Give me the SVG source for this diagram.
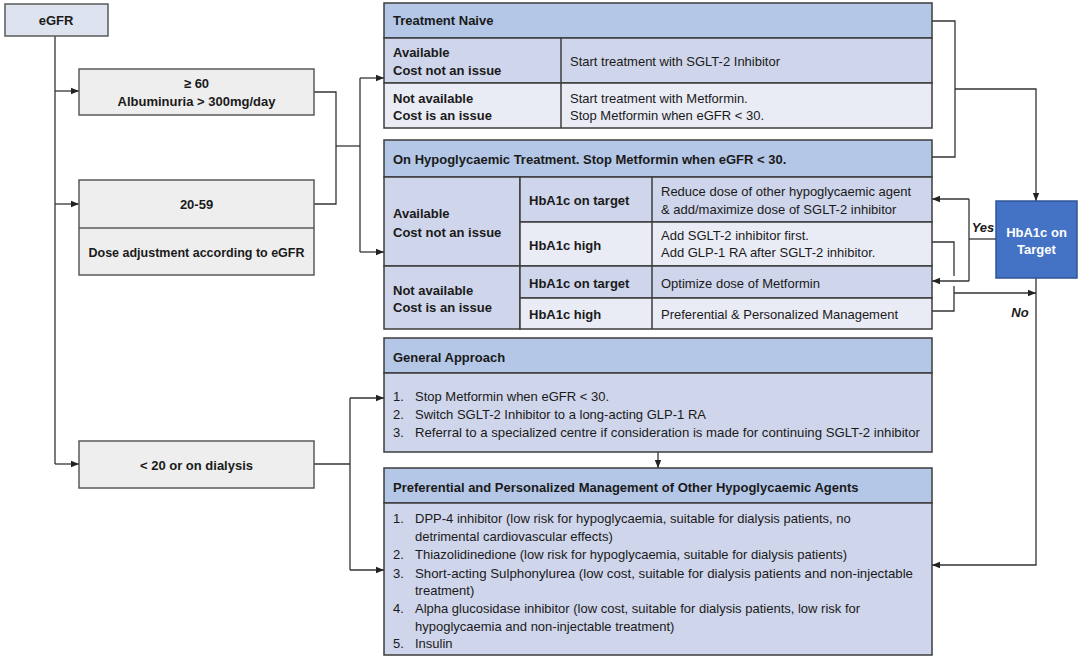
<svg xmlns="http://www.w3.org/2000/svg" width="1080" height="660" viewBox="0 0 1080 660">
<defs>
<marker id="ah" viewBox="0 0 8 8" refX="8" refY="4" markerWidth="8" markerHeight="8" markerUnits="userSpaceOnUse" orient="auto">
<path d="M0,0.8 L8,4 L0,7.2 Z" fill="#222"/>
</marker>
<style>
text{font-family:"Liberation Sans",Arial,sans-serif;font-size:13px;fill:#1a1a1a}
.b{font-weight:bold}
.c{text-anchor:middle}
.w{fill:#ffffff}
.bi{font-weight:bold;font-style:italic}
.box{fill:#eeeeee;stroke:#5a5a5a;stroke-width:1.5}
.egfr{fill:#dde4ef;stroke:#5a5a5a;stroke-width:1.5}
.hd{fill:#b4c7e7;stroke:#3d3d3d;stroke-width:1.5}
.dk{fill:#cfd5ea;stroke:#3d3d3d;stroke-width:1.5}
.lt{fill:#e9ebf5;stroke:#3d3d3d;stroke-width:1.5}
.tgt{fill:#4472c4;stroke:#2f5597;stroke-width:1.5}
.ln{fill:none;stroke:#333;stroke-width:1.3}
.ar{fill:none;stroke:#333;stroke-width:1.3;marker-end:url(#ah)}
</style>
</defs>
<rect width="1080" height="660" fill="#ffffff"/>

<g id="connectors">
<path class="ln" d="M55,36 V464"/>
<path class="ar" d="M55,91 H79"/>
<path class="ar" d="M55,204 H79"/>
<path class="ar" d="M55,464 H79"/>
<path class="ln" d="M314,92 H336 V204 H314"/>
<path class="ln" d="M336,146 H360"/>
<path class="ln" d="M360,78 V252"/>
<path class="ar" d="M360,78 H384"/>
<path class="ar" d="M360,252 H384"/>
<path class="ln" d="M314,464 H350"/>
<path class="ln" d="M350,398 V570"/>
<path class="ar" d="M350,398 H384"/>
<path class="ar" d="M350,570 H384"/>
<path class="ln" d="M932,21 H955 V157 H932"/>
<path class="ar" d="M955,89 H1036 V201"/>
<path class="ln" d="M996,239 H969"/>
<path class="ln" d="M969,199 V281"/>
<path class="ar" d="M969,199 H932"/>
<path class="ar" d="M969,281 H932"/>
<path class="ln" d="M932,242 H954 V276"/>
<path class="ln" d="M954,286 V311 H932"/>
<path class="ar" d="M954,293 H1036"/>
<path class="ar" d="M1036,278 V565 H932"/>
<path class="ar" d="M658,452 V468"/>
</g>

<g id="egfr">
<rect class="egfr" x="5" y="4" width="103" height="32"/>
<text class="b c" x="56" y="24.5">eGFR</text>
</g>

<g id="egfr-60">
<rect class="box" x="79" y="69" width="235" height="46"/>
<text class="b c" x="196.5" y="87.5">≥ 60</text>
<text class="b c" x="196.5" y="105.5">Albuminuria &gt; 300mg/day</text>
</g>

<g id="egfr-20-59">
<rect class="box" x="79" y="180" width="235" height="95"/>
<line x1="79" y1="228" x2="314" y2="228" stroke="#5a5a5a" stroke-width="1.5"/>
<text class="b c" x="196.5" y="208.5">20-59</text>
<text class="b c" x="196.5" y="256.5" textLength="216" lengthAdjust="spacingAndGlyphs">Dose adjustment according to eGFR</text>
</g>

<g id="egfr-20">
<rect class="box" x="79" y="441" width="235" height="47"/>
<text class="b c" x="196.5" y="469.5">&lt; 20 or on dialysis</text>
</g>

<g id="treatment-naive">
<rect class="hd" x="384" y="3" width="548" height="35"/>
<rect class="dk" x="384" y="38" width="548" height="45"/>
<rect class="lt" x="384" y="83" width="548" height="45"/>
<line x1="561" y1="38" x2="561" y2="128" stroke="#3d3d3d" stroke-width="1.5"/>
<text class="b" x="393" y="25">Treatment Naive</text>
<text class="b" x="393" y="56.5">Available</text>
<text class="b" x="393" y="74.5">Cost not an issue</text>
<text x="570" y="66">Start treatment with SGLT-2 Inhibitor</text>
<text class="b" x="393" y="102.5">Not available</text>
<text class="b" x="393" y="119.5">Cost is an issue</text>
<text x="570" y="102.5">Start treatment with Metformin.</text>
<text x="570" y="119.5">Stop Metformin when eGFR &lt; 30.</text>
</g>

<g id="hypoglycaemic-treatment">
<rect class="hd" x="384" y="140" width="548" height="37"/>
<rect class="dk" x="384" y="177" width="136" height="89"/>
<rect class="dk" x="520" y="177" width="412" height="45"/>
<rect class="lt" x="520" y="222" width="412" height="44"/>
<rect class="dk" x="384" y="266" width="136" height="63"/>
<rect class="dk" x="520" y="266" width="412" height="32"/>
<rect class="lt" x="520" y="298" width="412" height="31"/>
<line x1="652" y1="177" x2="652" y2="329" stroke="#3d3d3d" stroke-width="1.5"/>
<text class="b" x="393" y="163.5">On Hypoglycaemic Treatment. Stop Metformin when eGFR &lt; 30.</text>
<text class="b" x="393" y="217.5">Available</text>
<text class="b" x="393" y="236.5">Cost not an issue</text>
<text class="b" x="529" y="204.5">HbA1c on target</text>
<text x="661" y="195.5">Reduce dose of other hypoglycaemic agent</text>
<text x="661" y="213.5">&amp; add/maximize dose of SGLT-2 inhibitor</text>
<text class="b" x="529" y="249.5">HbA1c high</text>
<text x="661" y="239.5">Add SGLT-2 inhibitor first.</text>
<text x="661" y="256.5">Add GLP-1 RA after SGLT-2 inhibitor.</text>
<text class="b" x="393" y="294.5">Not available</text>
<text class="b" x="393" y="311.5">Cost is an issue</text>
<text class="b" x="529" y="287.5">HbA1c on target</text>
<text x="661" y="287.5">Optimize dose of Metformin</text>
<text class="b" x="529" y="318.5">HbA1c high</text>
<text x="661" y="318.5">Preferential &amp; Personalized Management</text>
</g>

<g id="hba1c-target">
<rect class="tgt" x="996" y="201" width="81" height="77"/>
<text class="b c w" x="1036.5" y="236.5">HbA1c on</text>
<text class="b c w" x="1036.5" y="253.5">Target</text>
</g>

<g id="labels">
<text class="bi c" x="983" y="231.5">Yes</text>
<text class="bi c" x="1020" y="316.5">No</text>
</g>

<g id="general-approach">
<rect class="hd" x="384" y="338" width="548" height="35"/>
<rect class="dk" x="384" y="373" width="548" height="79"/>
<text class="b" x="393" y="361.5">General Approach</text>
<text x="393" y="400.5">1.</text>
<text x="415" y="400.5">Stop Metformin when eGFR &lt; 30.</text>
<text x="393" y="418.5">2.</text>
<text x="415" y="418.5">Switch SGLT-2 Inhibitor to a long-acting GLP-1 RA</text>
<text x="393" y="436.5">3.</text>
<text x="415" y="436.5" textLength="505" lengthAdjust="spacingAndGlyphs">Referral to a specialized centre if consideration is made for continuing SGLT-2 inhibitor</text>
</g>

<g id="preferential-management">
<rect class="hd" x="384" y="468" width="548" height="35"/>
<rect class="dk" x="384" y="503" width="548" height="152"/>
<text class="b" x="393" y="491.5">Preferential and Personalized Management of Other Hypoglycaemic Agents</text>
<text x="393" y="522.5">1.</text>
<text x="415" y="522.5">DPP-4 inhibitor (low risk for hypoglycaemia, suitable for dialysis patients, no</text>
<text x="415" y="540.5">detrimental cardiovascular effects)</text>
<text x="393" y="558.5">2.</text>
<text x="415" y="558.5">Thiazolidinedione (low risk for hypoglycaemia, suitable for dialysis patients)</text>
<text x="393" y="577.5">3.</text>
<text x="415" y="577.5" textLength="498" lengthAdjust="spacingAndGlyphs">Short-acting Sulphonylurea (low cost, suitable for dialysis patients and non-injectable</text>
<text x="415" y="594.5">treatment)</text>
<text x="393" y="612.5">4.</text>
<text x="415" y="612.5">Alpha glucosidase inhibitor (low cost, suitable for dialysis patients, low risk for</text>
<text x="415" y="630.5">hypoglycaemia and non-injectable treatment)</text>
<text x="393" y="647.5">5.</text>
<text x="415" y="647.5">Insulin</text>
</g>
</svg>
